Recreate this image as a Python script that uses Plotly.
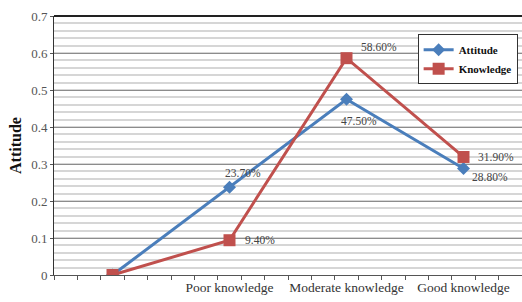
import plotly.graph_objects as go

categories = [" ", "Poor knowledge", "Moderate knowledge", "Good knowledge"]
attitude = [0.0, 0.237, 0.475, 0.288]
knowledge = [0.0, 0.094, 0.586, 0.319]
attitude_labels = ["", "23.70%", "47.50%", "28.80%"]
knowledge_labels = ["", "9.40%", "58.60%", "31.90%"]
y_ticks = [0, 0.1, 0.2, 0.3, 0.4, 0.5, 0.6, 0.7]
y_ticktext = ["0", "0.1", "0.2", "0.3", "0.4", "0.5", "0.6", "0.7"]

xi = list(range(len(categories)))
serif = "Liberation Serif, Times New Roman, serif"

fig = go.Figure()
fig.add_trace(go.Scatter(
    x=xi, y=attitude, name="<b>Attitude</b>", mode="lines+markers",
    line=dict(color="#4A7EBB", width=3),
    marker=dict(symbol="diamond", size=10, color="#4A7EBB"),
))
fig.add_trace(go.Scatter(
    x=xi, y=knowledge, name="<b>Knowledge</b>", mode="lines+markers",
    line=dict(color="#C0504D", width=3),
    marker=dict(symbol="square", size=12, color="#C0504D"),
))

# data label offsets in pixels (dx, dy up)
offsets_att = [None, (13, 14), (12, -22), (26, -9)]
offsets_kn = [None, (30, 0), (32, 11), (32, 0)]
label_font = dict(family=serif, size=11.5, color="#444444")
for i in xi:
    if attitude_labels[i]:
        dx, dy = offsets_att[i]
        fig.add_annotation(x=xi[i], y=attitude[i], text=attitude_labels[i],
                           showarrow=False, xshift=dx, yshift=dy, font=label_font)
    if knowledge_labels[i]:
        dx, dy = offsets_kn[i]
        fig.add_annotation(x=xi[i], y=knowledge[i], text=knowledge_labels[i],
                           showarrow=False, xshift=dx, yshift=dy, font=label_font)

fig.update_layout(
    width=522, height=302,
    margin=dict(l=54, r=0, t=16, b=27, autoexpand=False),
    paper_bgcolor="white", plot_bgcolor="white",
    showlegend=True,
    legend=dict(x=0.777, y=0.93, xanchor="left", yanchor="top",
                bgcolor="white", bordercolor="#333333", borderwidth=1,
                font=dict(family=serif, size=11, color="#111111"),
                itemwidth=30),
    font=dict(family=serif),
)
fig.update_xaxes(
    range=[-0.5, 3.5], tickmode="array", tickvals=xi, ticktext=categories,
    ticks="", showgrid=False, zeroline=False, automargin=False,
    showline=True, linecolor="#555555", linewidth=1,
    tickfont=dict(family=serif, size=13.5, color="#333333"),
    minor=dict(ticks="outside", tick0=-0.5, dtick=0.2, ticklen=4, tickcolor="#555555", showgrid=False),
)
fig.update_yaxes(
    range=[0, 0.7], tickmode="array", tickvals=y_ticks, ticktext=y_ticktext,
    showgrid=True, gridcolor="#8C8C8C", gridwidth=1.3, zeroline=False, automargin=False,
    showline=True, linecolor="#333333", linewidth=1, mirror=False,
    ticks="outside", ticklen=3, tickcolor="#555555",
    tickfont=dict(family=serif, size=13, color="#555555"),
    title=dict(text="<b>Attitude</b>", font=dict(family=serif, size=16, color="#111111"), standoff=5),
    minor=dict(tick0=0, dtick=0.02, showgrid=True, gridcolor="#D6D6D6", gridwidth=2),
)
# top border line
fig.add_shape(type="line", xref="paper", yref="paper", x0=0, x1=1, y0=1, y1=1,
              line=dict(color="#222222", width=2))

fig.write_html("out.html", config={"displayModeBar": False},
               post_script="document.body.style.margin='0';document.body.style.overflow='hidden';")
